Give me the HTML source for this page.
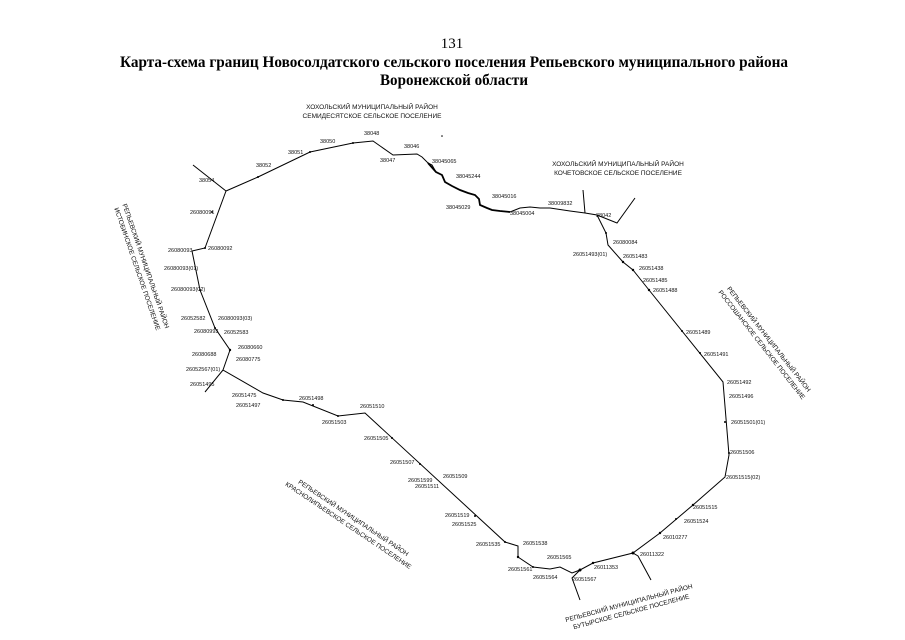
<!DOCTYPE html>
<html><head><meta charset="utf-8"><style>
html,body{margin:0;padding:0;background:#fff;}
svg{display:block;}
.n{font-family:"Liberation Sans",sans-serif;font-size:5.5px;fill:#111;}
.r{font-family:"Liberation Sans",sans-serif;font-size:6.5px;fill:#111;}
</style></head><body>
<svg width="905" height="640" viewBox="0 0 905 640" xmlns="http://www.w3.org/2000/svg">
<text x="452" y="48" text-anchor="middle" font-family="Liberation Serif, serif" font-size="15">131</text>
<text x="454" y="67" text-anchor="middle" font-family="Liberation Serif, serif" font-size="16" font-weight="bold" textLength="668" lengthAdjust="spacingAndGlyphs">Карта-схема границ Новосолдатского сельского поселения Репьевского муниципального района</text>
<text x="454" y="85" text-anchor="middle" font-family="Liberation Serif, serif" font-size="16" font-weight="bold" textLength="148" lengthAdjust="spacingAndGlyphs">Воронежской области</text>

<g fill="none" stroke="#000" stroke-width="1">
<path d="M226,191 L258,177 L310,152 L353,143 L373,141 L393,155 L417,154 L422,157 L428,163 L432,165 L436,172 L442,175 L445,182 L452,186 L460,190 L468,193 L475,195 L479,199 L480,205 L487,208 L492,210 L500,211 L510,212 L515,210 L520,208 L530,207 L540,208 L550,208 L570,211 L585,213 L597,215 L600,221 L606,233 L608,245 L623,262 L633,270 L649,290 L723,382 L729,455 L725,477 L693,505 L660,533 L633,553 L593,563 L580,570 L572,573 L560,567 L550,569 L533,567 L518,557 L518,546 L505,542 L365,413 L338,416 L303,402 L283,400 L263,393 L223,370 L230,350 L215,328 L200,290 L192,251 L205,248 L226,191 Z"/>
<path d="M428,163 L436,172 L442,175 L445,182 L452,186 L460,190 L468,193 L475,195 L479,199 L480,205 L487,208 L492,210 L500,211 L510,212" stroke-width="1.8"/>
<path d="M226,191 L193,165"/>
<path d="M585,213 L583,190"/>
<path d="M597,215 L617,223 L635,198"/>
<path d="M633,553 L638,556 L651,580"/>
<path d="M580,570 L572,578 L580,600"/>
<path d="M223,370 L205,392"/>
</g>
<g fill="#000">
<circle cx="258" cy="177" r="1"/><circle cx="310" cy="152" r="1"/><circle cx="353" cy="143" r="1"/><circle cx="606" cy="233" r="1"/><circle cx="623" cy="262" r="1.2"/><circle cx="633" cy="270" r="1.2"/><circle cx="649" cy="290" r="1.2"/><circle cx="682" cy="331" r="1"/><circle cx="700" cy="353" r="1"/><circle cx="725" cy="422" r="1"/><circle cx="729" cy="453" r="1"/><circle cx="693" cy="505" r="1.2"/><circle cx="676" cy="519" r="1"/><circle cx="660" cy="533" r="1.2"/><circle cx="633" cy="553" r="1.5"/><circle cx="593" cy="563" r="1.2"/><circle cx="580" cy="570" r="1.5"/><circle cx="533" cy="567" r="1"/><circle cx="518" cy="557" r="1.2"/><circle cx="505" cy="542" r="1"/><circle cx="475" cy="516" r="1"/><circle cx="420" cy="464" r="1"/><circle cx="392" cy="438" r="1"/><circle cx="338" cy="416" r="1"/><circle cx="313" cy="405" r="1"/><circle cx="283" cy="400" r="1"/><circle cx="230" cy="350" r="1.2"/><circle cx="215" cy="328" r="1"/><circle cx="200" cy="290" r="1"/><circle cx="205" cy="248" r="1"/><circle cx="212" cy="212" r="1"/><circle cx="442" cy="136" r="0.8"/>
</g>

<g class="r" text-anchor="middle">
<text x="372" y="109">ХОХОЛЬСКИЙ МУНИЦИПАЛЬНЫЙ РАЙОН</text>
<text x="372" y="118">СЕМИДЕСЯТСКОЕ СЕЛЬСКОЕ ПОСЕЛЕНИЕ</text>
<text x="618" y="166">ХОХОЛЬСКИЙ МУНИЦИПАЛЬНЫЙ РАЙОН</text>
<text x="618" y="175">КОЧЕТОВСКОЕ СЕЛЬСКОЕ ПОСЕЛЕНИЕ</text>
<g transform="translate(140,268) rotate(71)"><text x="0" y="-4">РЕПЬЕВСКИЙ МУНИЦИПАЛЬНЫЙ РАЙОН</text><text x="0" y="5">ИСТОБИНСКОЕ СЕЛЬСКОЕ ПОСЕЛЕНИЕ</text></g>
<g transform="translate(764,343) rotate(52)"><text x="0" y="-4">РЕПЬЕВСКИЙ МУНИЦИПАЛЬНЫЙ РАЙОН</text><text x="0" y="5">РОССОШАНСКОЕ СЕЛЬСКОЕ ПОСЕЛЕНИЕ</text></g>
<g transform="translate(350,523) rotate(34)"><text x="0" y="-4">РЕПЬЕВСКИЙ МУНИЦИПАЛЬНЫЙ РАЙОН</text><text x="0" y="5">КРАСНОЛИПЬЕВСКОЕ СЕЛЬСКОЕ ПОСЕЛЕНИЕ</text></g>
<g transform="translate(630,607) rotate(-15)"><text x="0" y="-2">РЕПЬЕВСКИЙ МУНИЦИПАЛЬНЫЙ РАЙОН</text><text x="0" y="7">БУТЫРСКОЕ СЕЛЬСКОЕ ПОСЕЛЕНИЕ</text></g>
</g>

<g class="n">
<text x="199" y="182">38054</text><text x="256" y="167">38052</text><text x="288" y="154">38051</text><text x="320" y="143">38050</text><text x="364" y="135">38048</text><text x="404" y="148">38046</text><text x="380" y="162">38047</text><text x="432" y="163">38045065</text><text x="456" y="178">38045244</text><text x="492" y="198">38045016</text><text x="446" y="209">38045029</text><text x="510" y="215">38045004</text><text x="548" y="205">38009832</text><text x="596" y="217">38042</text>
<text x="190" y="214">26080091</text><text x="208" y="250">26080092</text><text x="168" y="252">26080093</text><text x="164" y="270">26080093(01)</text><text x="171" y="291">26080093(02)</text><text x="181" y="320">26052582</text><text x="218" y="320">26080093(03)</text><text x="194" y="333">26080993</text><text x="224" y="334">26052583</text><text x="238" y="349">26080660</text><text x="192" y="356">26080688</text><text x="236" y="361">26080775</text><text x="186" y="371">26052567(01)</text><text x="190" y="386">26051495</text><text x="232" y="397">26051475</text><text x="236" y="407">26051497</text><text x="299" y="400">26051498</text><text x="322" y="424">26051503</text><text x="360" y="408">26051510</text><text x="364" y="440">26051505</text><text x="390" y="464">26051507</text><text x="443" y="478">26051509</text><text x="408" y="482">26051599</text><text x="415" y="488">26051511</text><text x="445" y="517">26051519</text><text x="452" y="526">26051525</text><text x="476" y="546">26051535</text><text x="523" y="545">26051538</text><text x="547" y="559">26051565</text><text x="508" y="571">26051561</text><text x="533" y="579">26051564</text><text x="572" y="581">26051567</text><text x="594" y="569">26011353</text><text x="640" y="556">26011322</text><text x="663" y="539">26010277</text><text x="684" y="523">26051524</text><text x="693" y="509">26051515</text><text x="726" y="479">26051515(02)</text><text x="730" y="454">26051506</text><text x="731" y="424">26051501(01)</text><text x="729" y="398">26051496</text><text x="727" y="384">26051492</text><text x="704" y="356">26051491</text><text x="686" y="334">26051489</text><text x="653" y="292">26051488</text><text x="643" y="282">26051485</text><text x="639" y="270">26051438</text><text x="623" y="258">26051483</text><text x="573" y="256">26051493(01)</text><text x="613" y="244">26080084</text>
</g>
</svg>
</body></html>
